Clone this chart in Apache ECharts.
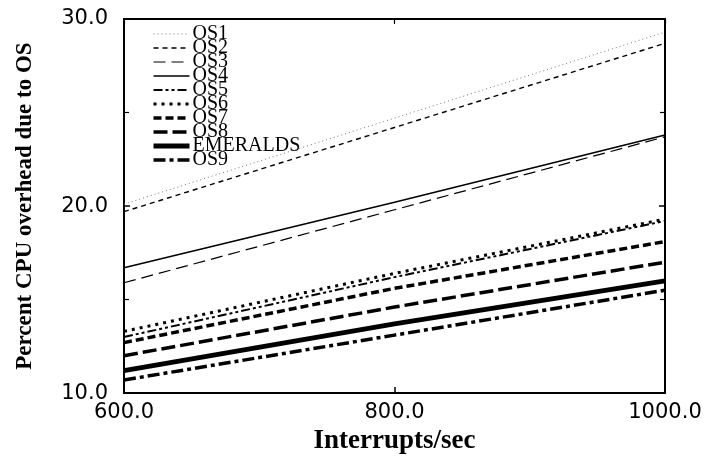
<!DOCTYPE html>
<html>
<head>
<meta charset="utf-8">
<script src="https://cdn.jsdelivr.net/npm/echarts@6/dist/echarts.min.js"></script>
<style>
  html, body { margin: 0; padding: 0; background: #fff; }
  #chart { width: 705px; height: 460px; }
</style>
</head>
<body>
<div id="chart"></div>
<script>
// Interrupt rates sampled along the x axis
const interruptRates = [600, 800, 1000];
const xTicks = [600, 800, 1000];
const yTicks = [10, 20, 30];

// Percent CPU overhead for each OS at those rates
const os1 = [20.1, 24.7, 29.3];
const os2 = [19.7, 24.2, 28.7];
const os3 = [15.9, 19.8, 23.7];
const os4 = [16.7, 20.2, 23.8];
const os5 = [13.0, 16.2, 19.2];
const os6 = [13.3, 16.4, 19.3];
const os7 = [12.7, 15.6, 18.1];
const os8 = [12.0, 14.6, 17.0];
const emeralds = [11.2, 13.7, 16.0];
const os9 = [10.7, 13.1, 15.5];

const seriesNames = ['OS1', 'OS2', 'OS3', 'OS4', 'OS5', 'OS6', 'OS7', 'OS8', 'EMERALDS', 'OS9'];
const seriesValues = [os1, os2, os3, os4, os5, os6, os7, os8, emeralds, os9];

// Stroke styles, one per series (width, dash pattern, colour)
const strokes = [
  { width: 1,   type: [1, 3],             color: '#777' },
  { width: 1.4, type: [5, 4],             color: '#000' },
  { width: 1.2, type: [12, 6],            color: '#000' },
  { width: 1.5, type: 'solid',            color: '#000' },
  { width: 2,   type: [9, 3, 3, 3, 3, 3], color: '#000' },
  { width: 3,   type: [3, 5],             color: '#000' },
  { width: 3.5, type: [8, 4],             color: '#000' },
  { width: 3.5, type: [14, 5],            color: '#000' },
  { width: 5,   type: 'solid',            color: '#000' },
  { width: 3.5, type: [12, 4, 4, 4],      color: '#000' }
];

const fmt = v => v.toFixed(1);
const sansLabel = { color: '#000', fontFamily: 'DejaVu Sans', fontSize: 21 };

const chart = echarts.init(document.getElementById('chart'), null, { renderer: 'canvas' });

chart.setOption({
  animation: false,
  backgroundColor: '#fff',
  grid: {
    left: 124, right: 40, top: 19, bottom: 66,
    show: true, borderColor: '#000', borderWidth: 2, backgroundColor: 'transparent'
  },
  legend: {
    orient: 'vertical',
    left: 146, top: 19,
    itemWidth: 36, itemHeight: 14, itemGap: -6,
    data: seriesNames.map((name, i) => ({
      name: name,
      lineStyle: { width: strokes[i].width, type: strokes[i].type, color: strokes[i].color, cap: 'butt' }
    })),
    itemStyle: { opacity: 0 },
    textStyle: { fontFamily: 'Liberation Serif', fontSize: 20, color: '#000', padding: [0, 0, 0, -2] }
  },
  xAxis: [{
    type: 'value',
    min: xTicks[0], max: xTicks[xTicks.length - 1], interval: xTicks[1] - xTicks[0],
    name: 'Interrupts/sec',
    nameLocation: 'middle', nameGap: 32,
    nameTextStyle: { fontFamily: 'Liberation Serif', fontWeight: 'bold', fontSize: 27, color: '#000' },
    axisLine: { show: true, lineStyle: { color: '#000', width: 2 } },
    axisTick: { show: true, inside: true, length: 6, lineStyle: { color: '#000', width: 1.5 } },
    axisLabel: Object.assign({ formatter: fmt, margin: 9 }, sansLabel),
    splitLine: { show: false }
  }, {
    type: 'value', position: 'top',
    min: xTicks[0], max: xTicks[xTicks.length - 1], interval: xTicks[1] - xTicks[0],
    axisLine: { show: false },
    axisTick: { show: true, inside: true, length: 5, lineStyle: { color: '#000', width: 1.2 } },
    axisLabel: { show: false },
    splitLine: { show: false }
  }],
  yAxis: [{
    type: 'value',
    min: yTicks[0], max: yTicks[yTicks.length - 1], interval: yTicks[1] - yTicks[0],
    name: 'Percent CPU overhead due to OS',
    nameLocation: 'middle', nameGap: 87,
    nameTextStyle: { fontFamily: 'Liberation Serif', fontWeight: 'bold', fontSize: 23, color: '#000' },
    axisLine: { show: true, lineStyle: { color: '#000', width: 2 } },
    axisTick: { show: true, inside: true, length: 6, lineStyle: { color: '#000', width: 1.5 } },
    minorTick: { show: true, splitNumber: 2, length: 5, lineStyle: { color: '#000', width: 1.2 } },
    axisLabel: Object.assign({ formatter: fmt, margin: 16 }, sansLabel),
    splitLine: { show: false }
  }, {
    type: 'value', position: 'right',
    min: yTicks[0], max: yTicks[yTicks.length - 1], interval: yTicks[1] - yTicks[0],
    axisLine: { show: false },
    axisTick: { show: true, inside: true, length: 6, lineStyle: { color: '#000', width: 1.5 } },
    minorTick: { show: true, splitNumber: 2, length: 5, lineStyle: { color: '#000', width: 1.2 } },
    axisLabel: { show: false },
    splitLine: { show: false }
  }],
  series: seriesNames.map((name, i) => ({
    name: name,
    type: 'line',
    xAxisIndex: 0, yAxisIndex: 0,
    symbol: 'none',
    data: interruptRates.map((x, j) => [x, seriesValues[i][j]]),
    lineStyle: { width: strokes[i].width, type: strokes[i].type, color: strokes[i].color, cap: 'butt' },
    itemStyle: { color: strokes[i].color },
    z: 2 + i
  }))
});
</script>
</body>
</html>
